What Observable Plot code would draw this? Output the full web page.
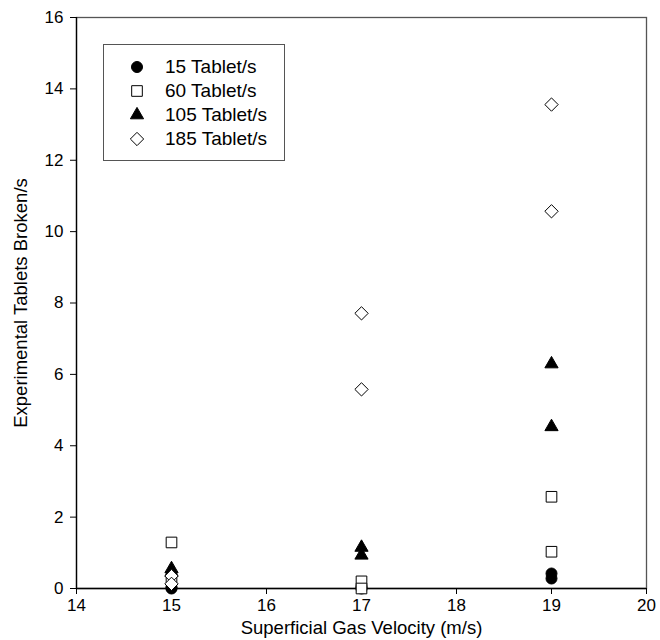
<!DOCTYPE html>
<html>
<head>
<meta charset="utf-8">
<script src="https://cdn.jsdelivr.net/npm/d3@7"></script>
<script src="https://cdn.jsdelivr.net/npm/@observablehq/plot@0.6"></script>
<style>
  html, body { margin: 0; padding: 0; background: #fff; }
  #wrap { position: relative; width: 660px; height: 640px; font-family: "Liberation Sans", Arial, sans-serif; }
  #legend { position: absolute; left: 103px; top: 44px; width: 182px; height: 117px; border: 1px solid #555; background: #fff; box-sizing: border-box; }
  .row { position: absolute; left: 0; height: 24px; display: flex; align-items: center; }
  .row svg { margin-left: 25px; }
  .row span { margin-left: 20px; font-size: 19px; color: #000; }
  #chart svg g[aria-label="x-axis tick label"], #chart svg g[aria-label="y-axis tick label"] { font-size: 17px !important; }
  #chart svg g[aria-label="x-axis label"], #chart svg g[aria-label="y-axis label"] { font-size: 18.5px !important; }
</style>
</head>
<body>
<div id="wrap"><div id="chart"></div><div id="legend"></div></div>
<script>
// Data
const seriesNames = ["15 Tablet/s", "60 Tablet/s", "105 Tablet/s", "185 Tablet/s"];
const seriesSymbols = ["circle", "square", "triangle", "diamond2"];
const seriesFills = ["black", "white", "black", "white"];
const seriesRadius = [5.5, 6, 4.9, 6];
const velocity = [15, 15, 17, 17, 19, 19];
const broken15 = [0.0, 0.03, 0.0, 0.03, 0.28, 0.42];
const broken60 = [1.29, 0.3, 0.2, 0.0, 2.57, 1.03];
const broken105 = [0.55, 0.45, 1.15, 0.93, 6.29, 4.53];
const broken185 = [0.35, 0.13, 7.71, 5.58, 13.56, 10.57];
const xTicks = [14, 15, 16, 17, 18, 19, 20];
const yTicks = [0, 2, 4, 6, 8, 10, 12, 14, 16];

const allSeries = [broken15, broken60, broken105, broken185];
const rows = (vals) => vals.map((v, i) => ({x: velocity[i], y: v}));

const marks = [];
allSeries.forEach((vals, k) => {
  marks.push(Plot.dot(rows(vals), {
    x: "x", y: "y",
    symbol: () => seriesSymbols[k],
    fill: seriesFills[k],
    stroke: "black",
    strokeWidth: 1,
    r: seriesRadius[k]
  }));
});

const chart = Plot.plot({
  width: 660,
  height: 640,
  marginLeft: 76,
  marginRight: 14,
  marginTop: 17,
  marginBottom: 52,
  style: { fontFamily: "'Liberation Sans', Arial, sans-serif", fontSize: "17px", background: "white", color: "black" },
  x: { domain: [xTicks[0], xTicks[xTicks.length - 1]] },
  y: { domain: [yTicks[0], yTicks[yTicks.length - 1]] },
  symbol: { type: "identity" },
  marks: [
    Plot.frame({ stroke: "#555", strokeWidth: 1.3 }),
    Plot.ruleX([xTicks[0]], { stroke: "black", strokeWidth: 1.3 }),
    Plot.ruleY([yTicks[0]], { stroke: "black", strokeWidth: 1.3 }),
    Plot.axisX({ ticks: xTicks, tickSize: 6, tickPadding: 4, tickFormat: d => String(d), label: "Superficial Gas Velocity (m/s)", labelAnchor: "center", labelArrow: "none", labelOffset: 45 }),
    Plot.axisY({ ticks: yTicks, tickSize: 6, tickPadding: 7, tickFormat: d => String(d), label: "Experimental Tablets Broken/s", labelAnchor: "center", labelArrow: "none", labelOffset: 63 }),
    ...marks
  ]
});
document.getElementById("chart").appendChild(chart);

// Legend
const legend = document.getElementById("legend");
const d3Sym = {circle: d3.symbolCircle, square: d3.symbolSquare, triangle: d3.symbolTriangle, diamond2: d3.symbolDiamond2};
seriesNames.forEach((name, k) => {
  const row = document.createElement("div");
  row.className = "row";
  row.style.top = (10 + k * 24) + "px";
  const sym = d3.symbol().type(d3Sym[seriesSymbols[k]]).size(Math.PI * seriesRadius[k] * seriesRadius[k])();
  row.innerHTML = `<svg width="16" height="16" viewBox="-8 -8 16 16"><path d="${sym}" fill="${seriesFills[k]}" stroke="black" stroke-width="1"/></svg><span>${name}</span>`;
  legend.appendChild(row);
});
</script>
</body>
</html>
